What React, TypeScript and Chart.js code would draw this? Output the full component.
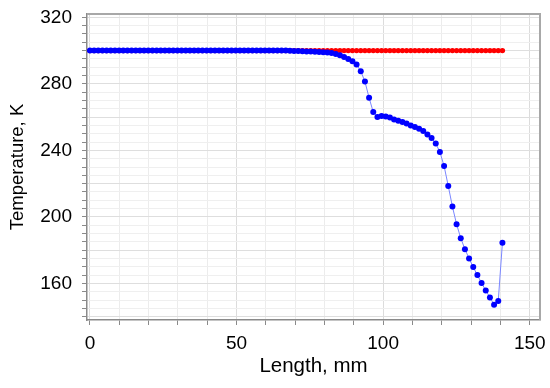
import React, { useEffect, useRef } from "react";
import { Chart, registerables } from "chart.js";

Chart.register(...registerables);

// Length positions (mm), uniform sampling grid of the solver output
const lengths: number[] = Array.from({ length: 100 }, (_, i) => Math.round(i * 1.421 * 100) / 100);

// Blue series: temperature (K)
const blueTemps: number[] = [
  300, 300, 300, 300, 300, 300, 300, 300, 300, 300,
  300, 300, 300, 300, 300, 300, 300, 300, 300, 300,
  300, 300, 300, 300, 300, 300, 300, 300, 300, 300,
  300, 300, 300, 300, 300, 300, 300, 300, 300, 300,
  300, 300, 300, 300, 300, 300, 300, 300, 299.9, 299.8,
  299.7, 299.6, 299.5, 299.4, 299.3, 299.2, 299.0, 298.8, 298.6, 298.0,
  297.2, 296.2, 295.0, 293.6, 291.6, 287.6, 281.4, 271.6, 263.0, 260.0,
  260.6, 260.4, 259.8, 258.6, 257.8, 257.0, 256.2, 255.0, 254.0, 253.0,
  251.6, 249.6, 247.4, 244.2, 239.0, 230.6, 218.6, 206.2, 195.6, 187.2,
  180.6, 175.0, 169.8, 165.0, 160.2, 155.8, 151.6, 147.2, 149.4, 184.4,
];

// Red series: temperature (K)
const redTemps: number[] = [
  300, 300, 300, 300, 300, 300, 300, 300, 300, 300,
  300, 300, 300, 300, 300, 300, 300, 300, 300, 300,
  300, 300, 300, 300, 300, 300, 300, 300, 300, 300,
  300, 300, 300, 300, 300, 300, 300, 300, 300, 300,
  300, 300, 300, 300, 300, 300, 300, 300, 300, 300,
  300, 300, 300, 300, 300, 300, 300, 300, 300, 300,
  300, 300, 300, 300, 300, 300, 300, 300, 300, 300,
  300, 300, 300, 300, 300, 300, 300, 300, 300, 300,
  300, 300, 300, 300, 300, 300, 300, 300, 300, 300,
  300, 300, 300, 300, 300, 300, 300, 300, 300, 300,
];

const xTickValues: number[] = [0, 10, 20, 30, 40, 50, 60, 70, 80, 90, 100, 110, 120, 130, 140, 150];
const xTickLabels: number[] = [0, 50, 100, 150];
const yTickValues: number[] = [
  140, 145, 150, 155, 160, 165, 170, 175, 180, 185, 190, 195, 200, 205, 210, 215, 220, 225,
  230, 235, 240, 245, 250, 255, 260, 265, 270, 275, 280, 285, 290, 295, 300, 305, 310, 315, 320,
];
const yTickLabels: number[] = [160, 200, 240, 280, 320];

const FONT = "'Liberation Sans', Arial, sans-serif";

const framePlugin = {
  id: "frame",
  afterDraw(chart: any) {
    const { ctx, chartArea } = chart;
    ctx.save();
    ctx.strokeStyle = "#a8a8a8";
    ctx.lineWidth = 2;
    ctx.beginPath();
    ctx.moveTo(chartArea.left, chartArea.top);
    ctx.lineTo(chartArea.right, chartArea.top);
    ctx.lineTo(chartArea.right, chartArea.bottom);
    ctx.stroke();
    ctx.restore();
  },
};

export default function App() {
  const canvasRef = useRef<HTMLCanvasElement | null>(null);

  useEffect(() => {
    if (!canvasRef.current) return;
    const chart = new Chart(canvasRef.current, {
      type: "line",
      data: {
        datasets: [
          {
            data: lengths.map((x, i) => ({ x, y: blueTemps[i] })),
            borderColor: "#7a86ff",
            borderWidth: 1,
            pointRadius: 3,
            pointBackgroundColor: "#0000ff",
            pointBorderWidth: 0,
            pointBorderColor: "#0000ff",
            order: 0,
          },
          {
            data: lengths.map((x, i) => ({ x, y: redTemps[i] })),
            borderColor: "#ff0000",
            borderWidth: 1,
            pointRadius: 2.7,
            pointBackgroundColor: "#ff0000",
            pointBorderWidth: 0,
            pointBorderColor: "#ff0000",
            order: 1,
          },
        ],
      },
      options: {
        animation: false,
        responsive: true,
        maintainAspectRatio: false,
        layout: { padding: { top: 14, right: 10, left: 0, bottom: 0 } },
        plugins: { legend: { display: false }, tooltip: { enabled: false } },
        scales: {
          x: {
            type: "linear",
            min: -1,
            max: 153.5,
            afterBuildTicks: (sc: any) => {
              sc.ticks = xTickValues.map((v) => ({ value: v }));
            },
            afterFit: (sc: any) => {
              sc.height = 68;
              sc.paddingLeft = 0;
              sc.paddingRight = 0;
            },
            ticks: {
              autoSkip: false,
              maxRotation: 0,
              padding: 7,
              color: "#000",
              font: { family: FONT, size: 19 },
              callback: (v: any) => (xTickLabels.includes(Number(v)) ? String(v) : ""),
            },
            grid: {
              color: (c: any) => (c.tick && Number(c.tick.value) % 50 === 0 ? "#dcdcdc" : "#ececec"),
              tickColor: "#8a8a8a",
              tickLength: 5,
              lineWidth: 1,
            },
            border: { color: "#8a8a8a", width: 1.5 },
            title: {
              display: true,
              text: "Length, mm",
              color: "#000",
              font: { family: FONT, size: 20.5 },
              padding: { top: 0, bottom: 9 },
            },
          },
          y: {
            type: "linear",
            min: 138,
            max: 322,
            afterBuildTicks: (sc: any) => {
              sc.ticks = yTickValues.map((v) => ({ value: v }));
            },
            afterFit: (sc: any) => {
              sc.width = 87;
              sc.paddingTop = 0;
              sc.paddingBottom = 0;
            },
            ticks: {
              autoSkip: false,
              padding: 10,
              color: "#000",
              font: { family: FONT, size: 19 },
              callback: (v: any) => (yTickLabels.includes(Number(v)) ? String(v) : ""),
            },
            grid: {
              color: (c: any) => (c.tick && Number(c.tick.value) % 20 === 0 ? "#dedede" : "#efefef"),
              tickColor: "#8a8a8a",
              tickLength: 5,
              lineWidth: 1,
            },
            border: { color: "#8a8a8a", width: 1.5 },
            title: {
              display: true,
              text: "Temperature, K",
              color: "#000",
              font: { family: FONT, size: 18.5 },
              padding: { top: 7, bottom: 0 },
            },
          },
        },
      },
      plugins: [framePlugin],
    } as any);
    return () => chart.destroy();
  }, []);

  return (
    <div style={{ position: "fixed", left: 0, top: 0, width: 550, height: 388, background: "#fff" }}>
      <canvas ref={canvasRef} />
    </div>
  );
}
